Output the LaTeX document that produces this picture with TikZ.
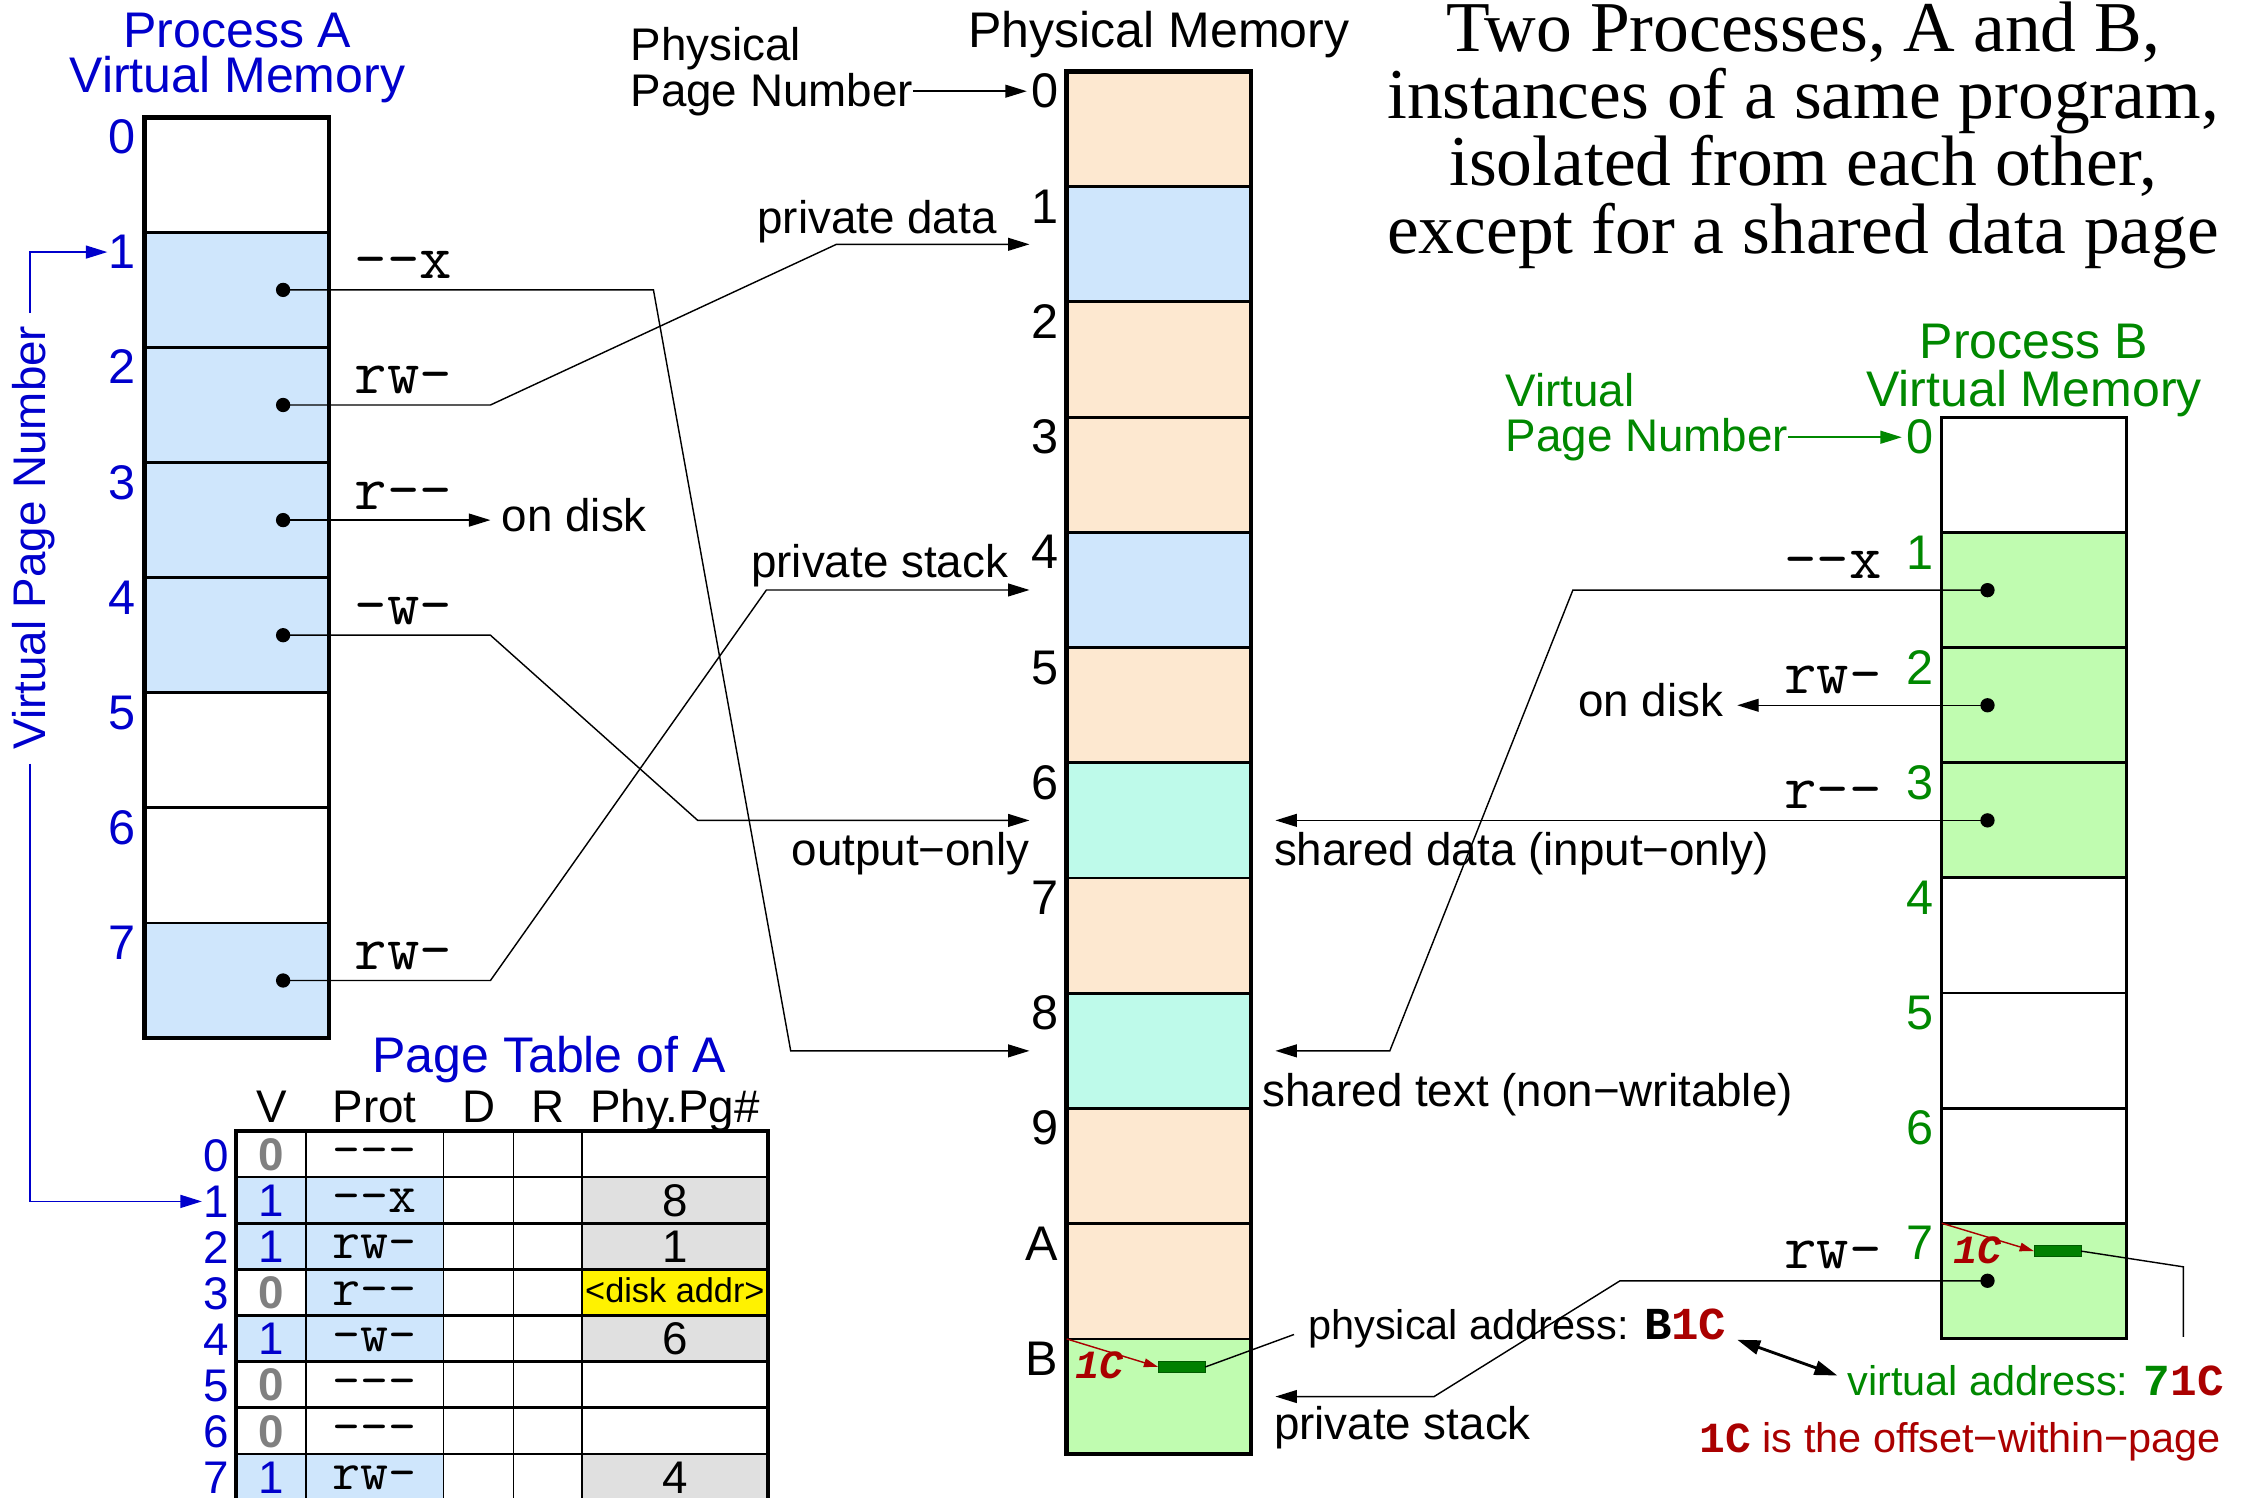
\documentclass[tikz,border=0pt]{standalone}
\usepackage{fontspec}
\setmainfont{Liberation Sans}
\newfontfamily\ttlfont{Liberation Serif}
\newfontfamily\bmono{Liberation Mono}
\usetikzlibrary{arrows.meta}

\definecolor{vblue}{RGB}{0,0,204}
\definecolor{vgreen}{RGB}{0,136,0}
\definecolor{dred}{RGB}{170,0,0}
\definecolor{lblue}{RGB}{207,230,252}
\definecolor{peach}{RGB}{253,232,208}
\definecolor{aqua}{RGB}{190,250,234}
\definecolor{lgreen}{RGB}{192,252,176}
\definecolor{tgray}{RGB}{224,224,224}
\definecolor{dgreen}{RGB}{0,128,0}
\definecolor{vgray}{RGB}{128,128,128}

% a hyphen that never joins its neighbour into a dash ligature
\newcommand{\dsh}{-\kern0pt }

\begin{document}
\begin{tikzpicture}[x=0.5pt,y=-0.5pt,
  every node/.style={inner sep=0pt, outer sep=0pt},
  lbl/.style={font=\fontsize{16}{19}\selectfont},
  sml/.style={font=\fontsize{14.5}{17}\selectfont},
  head/.style={font=\fontsize{17.5}{21}\selectfont},
  num/.style={font=\fontsize{17}{20}\selectfont},
  tnum/.style={font=\fontsize{16}{19}\selectfont},
  prot/.style={font=\ttfamily\fontsize{22}{24}\selectfont},
  tprot/.style={font=\ttfamily\fontsize{19}{22}\selectfont},
  ttl/.style={font=\ttlfont\fontsize{25}{28}\selectfont},
  redc/.style={font=\bmono\bfseries\itshape\fontsize{14}{16}\selectfont, text=dred},
  vzero/.style={font=\bfseries\fontsize{16}{19}\selectfont, text=vgray},
  vone/.style={font=\fontsize{16}{19}\selectfont, text=vblue},
  pagecell/.style={draw, line width=1pt, minimum width=64.5pt, minimum height=40.25pt},
  pmcell/.style={draw, line width=1pt, minimum width=64.5pt, minimum height=40.29pt},
  conn/.style={line width=0.5pt},
  arr/.style={conn, -{Triangle[length=7.5pt,width=4.5pt]}},
  bluearr/.style={line width=0.6pt, draw=vblue, -{Triangle[length=7.5pt,width=4.5pt]}, color=vblue},
  greenarr/.style={line width=0.6pt, -{Triangle[length=7.5pt,width=4.5pt]}, color=vgreen},
  redarr/.style={line width=0.5pt, color=dred, -{Triangle[length=5pt,width=3pt]}},
  dblarr/.style={line width=1pt, {Triangle[length=8pt,width=5pt]}-{Triangle[length=8pt,width=5pt]}},
  dotm/.style={circle, fill=black, minimum size=5pt},
  greenbox/.style={fill=dgreen, draw=dgreen!70!black, line width=0.3pt, minimum width=16.5pt, minimum height=4pt}
]
\useasboundingbox (0,0) rectangle (1568,1047);

% ---------- title ----------
\node[ttl, anchor=base] (t1) at (1261,36) {Two Processes, A and B,};
\node[ttl, anchor=base] (t2) at (1261,83) {instances of a same program,};
\node[ttl, anchor=base] (t3) at (1261,130) {isolated from each other,};
\node[ttl, anchor=base] (t4) at (1261,177) {except for a shared data page};

% ---------- process A virtual memory ----------
\node[head, text=vblue, anchor=base] (ha1) at (166,33) {Process A};
\node[head, text=vblue, anchor=base] (ha2) at (166,65) {Virtual Memory};
\foreach \i/\c in {0/white,1/lblue,2/lblue,3/lblue,4/lblue,5/white,6/white,7/lblue}{
  \node[pagecell, fill=\c] (a\i) at (165.5,{122.25+80.5*\i}) {};
  \node[num, text=vblue, anchor=base east] (an\i) at (95,{107.5+80.5*\i}) {\i};
}
\draw[line width=1.6pt] (a0.north west) rectangle (a7.south east);

\node[lbl, text=vblue, rotate=90, anchor=base] (vpn) at (32,376) {Virtual Page Number};
\coordinate (vtop) at (21,219);
\coordinate (vbot) at (21,534);

\node[prot, anchor=base west] (pa1) at (248,195) {\dsh\dsh x};
\node[prot, anchor=base west] (pa2) at (248,275.5) {rw\dsh};
\node[prot, anchor=base west] (pa3) at (248,356) {r\dsh\dsh};
\node[prot, anchor=base west] (pa4) at (248,436.5) {\dsh w\dsh};
\node[prot, anchor=base west] (pa7) at (248,678) {rw\dsh};

\node[dotm] (dA1) at (198,202.75) {};
\node[dotm] (dA2) at (198,283.25) {};
\node[dotm] (dA3) at (198,363.75) {};
\node[dotm] (dA4) at (198,444.25) {};
\node[dotm] (dA7) at (198,685.75) {};

\node[lbl, anchor=base west] (odA) at (351,372) {on disk};
\coordinate (diskA) at (343,363.75);

% ---------- physical memory ----------
\node[head, anchor=base] (hp) at (810.5,33) {Physical Memory};
\node[lbl, anchor=base west] (ppn1) at (441,42) {Physical};
\node[lbl, anchor=base west] (ppn2) at (441,74.5) {Page Number};
\foreach \i/\l/\c in {0/0/peach,1/1/lblue,2/2/peach,3/3/peach,4/4/lblue,5/5/peach,
                      6/6/aqua,7/7/peach,8/8/aqua,9/9/peach,10/A/peach,11/B/lgreen}{
  \node[pmcell, fill=\c] (p\i) at (810.5,{90.29+80.583*\i}) {};
  \node[num, anchor=base east] (pn\i) at (740,{75.5+80.583*\i}) {\l};
}
\draw[line width=1.6pt] (p0.north west) rectangle (p11.south east);
\draw[arr, shorten >=1.5pt] (ppn2.east |- pn0.west) -- (pn0.west);

\foreach \i in {1,4,6,8}{
  \coordinate (pL\i) at ([xshift=-13pt]p\i.west);
}
\foreach \i in {6,8,11}{
  \coordinate (pR\i) at ([xshift=8.5pt]p\i.east);
}

\node[lbl, anchor=base east] (lpd) at (697,163) {private data};
\node[lbl, anchor=base east] (lps) at (705,404) {private stack};
\node[lbl, anchor=base east] (loo) at (720,605) {output−only};
\node[lbl, anchor=base west] (lsd) at (891,605) {shared data (input−only)};
\node[lbl, anchor=base west] (lst) at (883,774) {shared text (non−writable)};
\node[lbl, anchor=base west] (lps2) at (891,1007) {private stack};

% ---------- process B virtual memory ----------
\node[head, text=vgreen, anchor=base] (hb1) at (1422.5,251) {Process B};
\node[head, text=vgreen, anchor=base] (hb2) at (1422.5,284) {Virtual Memory};
\node[lbl, text=vgreen, anchor=base west] (bvp1) at (1053,284) {Virtual};
\node[lbl, text=vgreen, anchor=base west] (bvp2) at (1053,316) {Page Number};
\foreach \i/\c in {0/white,1/lgreen,2/lgreen,3/lgreen,4/white,5/white,6/white,7/lgreen}{
  \node[pagecell, fill=\c] (b\i) at (1422.5,{332.25+80.5*\i}) {};
  \node[num, text=vgreen, anchor=base east] (bn\i) at (1352,{317.5+80.5*\i}) {\i};
}
\draw[line width=1.1pt] (b0.north west) rectangle (b7.south east);
\draw[greenarr, shorten >=1.5pt] (bvp2.east |- bn0.west) -- (bn0.west);

\node[prot, anchor=base east] (pb1) at (1316,404.5) {\dsh\dsh x};
\node[prot, anchor=base east] (pb2) at (1316,485) {rw\dsh};
\node[prot, anchor=base east] (pb3) at (1316,565.5) {r\dsh\dsh};
\node[prot, anchor=base east] (pb7) at (1316,887.5) {rw\dsh};

\node[dotm] (dB1) at (1390,412.75) {};
\node[dotm] (dB2) at (1390,493.25) {};
\node[dotm] (dB3) at (1390,573.75) {};
\node[dotm] (dB7) at (1390,895.75) {};

\node[lbl, anchor=base east] (odB) at (1205,501) {on disk};
\coordinate (diskB) at (1215,493.25);

% ---------- mappings of A ----------
\draw[arr] (dA1.center) -- (457,202.75) -- (553,734.95) -- (pL8);
\draw[arr] (dA2.center) -- (343,283.25) -- (585,170.87) -- (pL1);
\draw[arr] (dA3.center) -- (diskA);
\draw[arr] (dA4.center) -- (343,444.25) -- (488,573.79) -- (pL6);
\draw[arr] (dA7.center) -- (343,685.75) -- (536,412.62) -- (pL4);

% ---------- mappings of B ----------
\draw[arr] (dB1.center) -- (1100,412.75) -- (972,734.95) -- (pR8);
\draw[arr] (dB2.center) -- (diskB);
\draw[arr] (dB3.center) -- (dB3.center -| pR6);
\draw[arr] (dB7.center) -- (1133,895.75) -- (1003,976.7) -- (pR11);

% ---------- virtual page number bracket ----------
\draw[bluearr, shorten >=0.5pt] (vtop) |- (an1.west);

% ---------- page table of A ----------
\node[head, text=vblue, anchor=base] (hpt) at (384,750) {Page Table of A};
\node[tnum, anchor=base] (hv) at (190,785) {V};
\node[tnum, anchor=base] (hpr) at (262,785) {Prot};
\node[tnum, anchor=base] (hd) at (335,785) {D};
\node[tnum, anchor=base] (hr) at (383,785) {R};
\node[tnum, anchor=base] (hph) at (472,785) {Phy.Pg\#};

\foreach \i/\vf/\pf/\gf in {0/white/white/white,1/lblue/lblue/tgray,2/lblue/lblue/tgray,
    3/white/lblue/yellow,4/lblue/lblue/tgray,5/white/white/white,6/white/white/white,
    7/lblue/lblue/tgray}{
  \fill[\vf] (165,{791+32.25*\i}) rectangle (214,{791+32.25*(\i+1)});
  \fill[\pf] (214,{791+32.25*\i}) rectangle (310,{791+32.25*(\i+1)});
  \fill[white] (310,{791+32.25*\i}) rectangle (407,{791+32.25*(\i+1)});
  \fill[\gf] (407,{791+32.25*\i}) rectangle (537,{791+32.25*(\i+1)});
}
\foreach \i in {1,...,7}{
  \draw[line width=0.9pt] (165,{791+32.25*\i}) -- (537,{791+32.25*\i});
}
\foreach \x in {214,310,359,407}{
  \draw[line width=0.5pt] (\x,791) -- (\x,1049);
}
\draw[line width=1.4pt] (165,1049) -- (165,791) -- (537,791) -- (537,1049);

\foreach \i/\vs/\v/\p/\g in {
  0/vzero/0/{\dsh\dsh\dsh}/{},
  1/vone/1/{\dsh\dsh x}/8,
  2/vone/1/{rw\dsh}/1,
  3/vzero/0/{r\dsh\dsh}/{},
  4/vone/1/{\dsh w\dsh}/6,
  5/vzero/0/{\dsh\dsh\dsh}/{},
  6/vzero/0/{\dsh\dsh\dsh}/{},
  7/vone/1/{rw\dsh}/4}{
  \node[\vs, anchor=base] (tv\i) at (189.5,{791+32.25*\i+27.5}) {\v};
  \node[tprot, anchor=base] (tp\i) at (262,{791+32.25*\i+25}) {\p};
  \node[tnum, anchor=base] (tg\i) at (472,{791+32.25*\i+27.5}) {\g};
  \node[tnum, text=vblue, anchor=base east] (tr\i) at (160,{791+32.25*\i+28}) {\i};
}
\node[font=\fontsize{12}{14}\selectfont, anchor=base] (tdisk) at (472,911) {<disk addr>};

\draw[bluearr, shorten >=0.5pt] (vbot) |- (tr1.west);

% ---------- address translation detail ----------
\node[greenbox] (grP) at (826.5,956) {};
\node[redc, anchor=base west] (ofP) at (752,964) {1C};
\draw[redarr] (p11.north west) -- (grP.west);
\node[sml, anchor=base west] (physlbl) at (915,937)
  {physical address: {\bmono\bfseries\fontsize{16}{19}\selectfont B\textcolor{dred}{1C}}};
\draw[conn] (grP.east) -- ([xshift=-5pt,yshift=-2pt]physlbl.west);

\node[greenbox] (grV) at (1439,875) {};
\node[redc, anchor=base west] (ofV) at (1366,884) {1C};
\draw[redarr] (b7.north west) -- (grV.west);
\node[sml, text=vgreen, anchor=base west] (virtlbl) at (1292,976)
  {virtual address: {\bmono\bfseries\fontsize{15.5}{19}\selectfont 7\textcolor{dred}{1C}}};
\coordinate (vaend) at (1527,935);
\draw[conn] (grV.east) -- (1527,886) -- (vaend);

\coordinate (paend) at (1215,937);
\coordinate (vastart) at (1285,962);
\draw[dblarr] (paend) -- (vastart);

\node[sml, text=dred, anchor=base east] (offlbl) at (1553,1016)
  {{\bmono\bfseries\fontsize{15}{19}\selectfont 1C} is the offset−within−page};

\end{tikzpicture}
\end{document}
